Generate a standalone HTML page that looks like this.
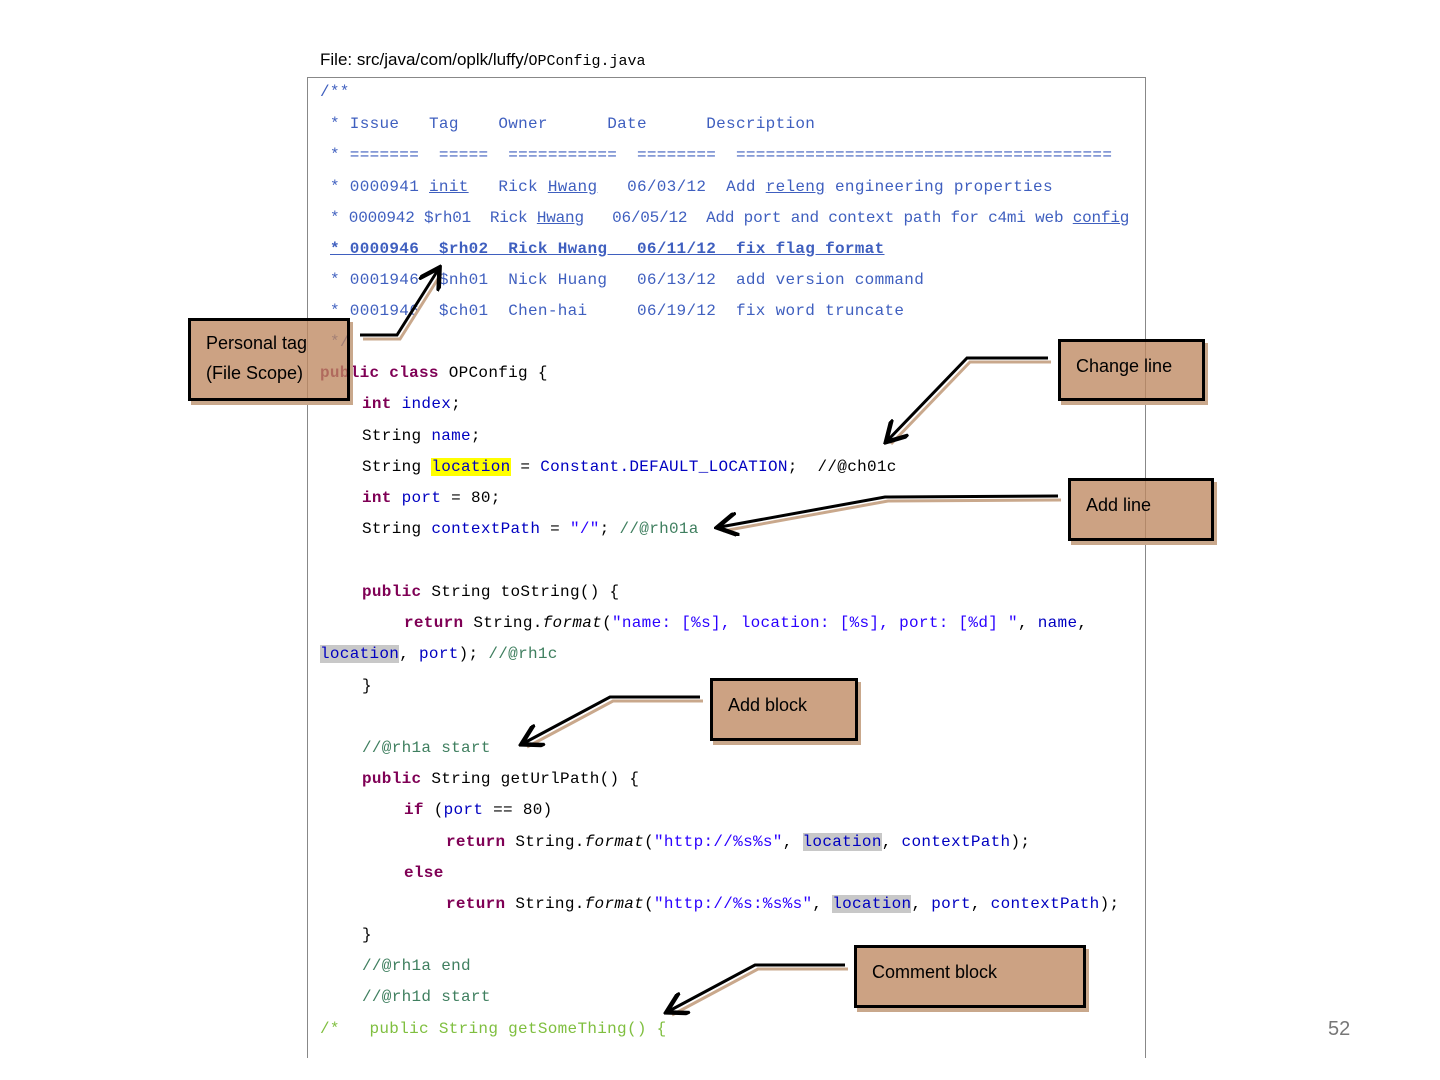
<!DOCTYPE html>
<html><head><meta charset="utf-8"><style>
body{margin:0;width:1440px;height:1080px;background:#fff;position:relative;overflow:hidden;font-family:"Liberation Sans",sans-serif}
.l{position:absolute;white-space:pre;font-family:"Liberation Mono",monospace;font-size:16px;letter-spacing:0.3px;line-height:20px;height:20px;color:#000}
.j{color:#3F5FBF}.k{color:#7F0055;font-weight:bold}.f{color:#0000C0}.s{color:#2A00FF}.c{color:#3F7F5F}.g{color:#7fbf3f}
.u{text-decoration:underline}
.box{position:absolute;background:rgba(190,136,96,0.78);border:3px solid #000;box-shadow:3px 4px 0 #c9a88c;font-size:18px;color:#000}
.box span{position:absolute;white-space:nowrap}
</style></head><body>
<div style="position:absolute;left:320px;top:50px;font-size:17px;color:#000">File: src/java/com/oplk/luffy/<span style="font-family:'Liberation Mono',monospace;font-size:15px">OPConfig.java</span></div>
<div style="position:absolute;left:307px;top:77px;width:837px;height:980px;border:1px solid #888;border-bottom:none"></div>

<div class="l j" style="left:320px;top:82px">/**</div>
<div class="l j" style="left:330px;top:114px">* Issue   Tag    Owner      Date      Description</div>
<div class="l j" style="left:330px;top:145px">* =======  =====  ===========  ========  ======================================</div>
<div class="l j" style="left:330px;top:177px">* 0000941 <span class="u">init</span>   Rick <span class="u">Hwang</span>   06/03/12  Add <span class="u">releng</span> engineering properties</div>
<div class="l j" style="left:330px;top:208px;letter-spacing:-0.2px">* 0000942 $rh01  Rick <span class="u">Hwang</span>   06/05/12  Add port and context path for c4mi web <span class="u">config</span></div>
<div class="l j u" style="left:330px;top:239px;font-weight:bold">* 0000946  $rh02  Rick Hwang   06/11/12  fix flag format</div>
<div class="l j" style="left:330px;top:270px">* 0001946  $nh01  Nick Huang   06/13/12  add version command</div>
<div class="l j" style="left:330px;top:301px">* 0001946  $ch01  Chen-hai     06/19/12  fix word truncate</div>
<div class="l j" style="left:330px;top:332px">*/</div>
<div class="l" style="left:320px;top:363px"><span class="k">public class</span> OPConfig {</div>
<div class="l" style="left:362px;top:394px"><span class="k">int</span> <span class="f">index</span>;</div>
<div class="l" style="left:362px;top:426px">String <span class="f">name</span>;</div>
<div class="l" style="left:362px;top:457px">String <span class="f" style="background:#ffff00">location</span> = <span class="f">Constant.DEFAULT_LOCATION</span>;  //@ch01c</div>
<div class="l" style="left:362px;top:488px"><span class="k">int</span> <span class="f">port</span> = 80;</div>
<div class="l" style="left:362px;top:519px">String <span class="f">contextPath</span> = <span class="s">"/"</span>; <span class="c">//@rh01a</span></div>
<div class="l" style="left:362px;top:582px"><span class="k">public</span> String toString() {</div>
<div class="l" style="left:404px;top:613px"><span class="k">return</span> String.<i>format</i>(<span class="s">"name: [%s], location: [%s], port: [%d] "</span>, <span class="f">name</span>,</div>
<div class="l" style="left:320px;top:644px"><span class="f" style="background:#c8c8c8">location</span>, <span class="f">port</span>); <span class="c">//@rh1c</span></div>
<div class="l" style="left:362px;top:676px">}</div>
<div class="l c" style="left:362px;top:738px">//@rh1a start</div>
<div class="l" style="left:362px;top:769px"><span class="k">public</span> String getUrlPath() {</div>
<div class="l" style="left:404px;top:800px"><span class="k">if</span> (<span class="f">port</span> == 80)</div>
<div class="l" style="left:446px;top:832px"><span class="k">return</span> String.<i>format</i>(<span class="s">"http://%s%s"</span>, <span class="f" style="background:#c8c8c8">location</span>, <span class="f">contextPath</span>);</div>
<div class="l" style="left:404px;top:863px"><span class="k">else</span></div>
<div class="l" style="left:446px;top:894px"><span class="k">return</span> String.<i>format</i>(<span class="s">"http://%s:%s%s"</span>, <span class="f" style="background:#c8c8c8">location</span>, <span class="f">port</span>, <span class="f">contextPath</span>);</div>
<div class="l" style="left:362px;top:925px">}</div>
<div class="l c" style="left:362px;top:956px">//@rh1a end</div>
<div class="l c" style="left:362px;top:987px">//@rh1d start</div>
<div class="l g" style="left:320px;top:1019px">/*   public String getSomeThing() {</div>

<svg width="1440" height="1080" style="position:absolute;left:0;top:0" fill="none">
<defs><marker id="a" markerWidth="8" markerHeight="8" refX="6" refY="4" orient="auto" markerUnits="strokeWidth"><path d="M0,0 L7,4 L0,8" fill="none" stroke="#000" stroke-width="1.5"/></marker></defs>
<g stroke="#c9a88c" stroke-width="3" transform="translate(3,4)">
<polyline points="360,335 397,335 438,270"/><polyline points="1048,358 967,358 888,440"/><polyline points="1058,496 885,497 720,527"/><polyline points="700,697 610,697 524,743"/><polyline points="845,965 755,965 669,1011"/>
</g>
<g stroke="#000" stroke-width="3">
<polyline points="360,335 397,335 438,270" marker-end="url(#a)"/><polyline points="1048,358 967,358 888,440" marker-end="url(#a)"/><polyline points="1058,496 885,497 720,527" marker-end="url(#a)"/><polyline points="700,697 610,697 524,743" marker-end="url(#a)"/><polyline points="845,965 755,965 669,1011" marker-end="url(#a)"/>
</g></svg>

<div class="box" style="left:188px;top:318px;width:156px;height:77px"><span style="left:15px;top:12px">Personal tag</span><span style="left:15px;top:42px">(File Scope)</span></div>
<div class="box" style="left:1058px;top:339px;width:141px;height:56px"><span style="left:15px;top:14px">Change line</span></div>
<div class="box" style="left:1068px;top:478px;width:140px;height:57px"><span style="left:15px;top:14px">Add line</span></div>
<div class="box" style="left:710px;top:678px;width:142px;height:57px"><span style="left:15px;top:14px">Add block</span></div>
<div class="box" style="left:854px;top:945px;width:226px;height:57px"><span style="left:15px;top:14px">Comment block</span></div>

<div style="position:absolute;left:1328px;top:1018px;font-size:20px;color:#777">52</div>
</body></html>
